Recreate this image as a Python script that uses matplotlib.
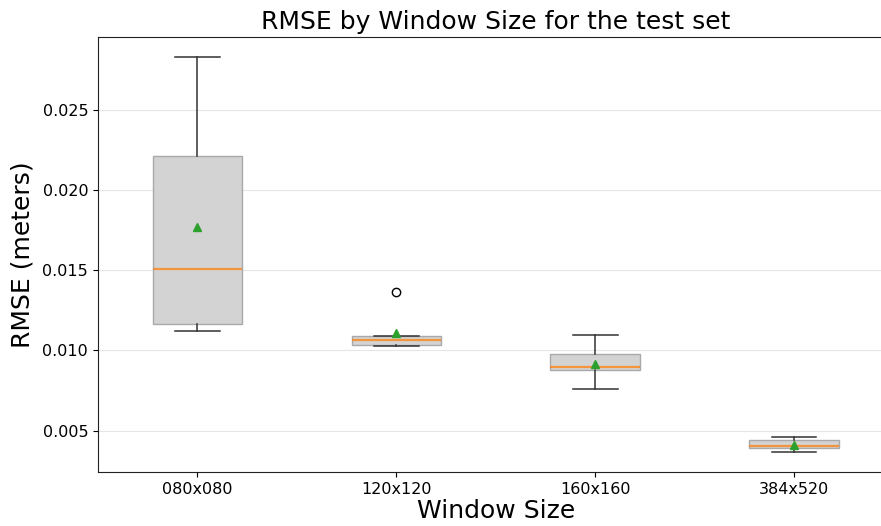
import numpy as np
import matplotlib.pyplot as plt

# box stats (RMSE in meters)
window_sizes = ['080x080', '120x120', '160x160', '384x520']
whis_lo = [0.01123, 0.01028, 0.00758, 0.00365]
q1 = [0.01165, 0.01032, 0.00876, 0.00393]
medians = [0.01510, 0.01063, 0.00897, 0.00404]
q3 = [0.02211, 0.01088, 0.00976, 0.00439]
whis_hi = [0.02831, 0.01090, 0.01098, 0.00458]
means = [0.01768, 0.01111, 0.00917, 0.00410]
fliers = [[], [0.01363], [], []]

stats = []
for i, name in enumerate(window_sizes):
    stats.append({'label': name, 'whislo': whis_lo[i], 'q1': q1[i],
                  'med': medians[i], 'q3': q3[i], 'whishi': whis_hi[i],
                  'mean': means[i], 'fliers': np.array(fliers[i])})

fig = plt.figure(figsize=(8.81, 5.26), dpi=100)
ax = fig.add_axes([0.1112, 0.1027, 0.903, 0.827])

ax.bxp(stats, showmeans=True, patch_artist=True,
       boxprops={'facecolor': 'lightgray', 'edgecolor': 'darkgray'},
       whiskerprops={'color': '#333333', 'linewidth': 1.1},
       capprops={'color': '#333333', 'linewidth': 1.1},
       medianprops={'color': 'C1', 'alpha': 0.75, 'linewidth': 1.6},
       meanprops={'marker': '^', 'markerfacecolor': 'C2',
                  'markeredgecolor': 'C2'})

ax.yaxis.grid(True, color='#e6e6e6')
ax.set_axisbelow(True)
for s in ax.spines.values():
    s.set_color('#222222')
ax.set_title('RMSE by Window Size for the test set', fontsize=18)
ax.set_xlabel('Window Size', fontsize=18, labelpad=2)
ax.set_ylabel('RMSE (meters)', fontsize=18, labelpad=6)
ax.tick_params(labelsize=11.5)

plt.savefig('out.png', dpi=100)
